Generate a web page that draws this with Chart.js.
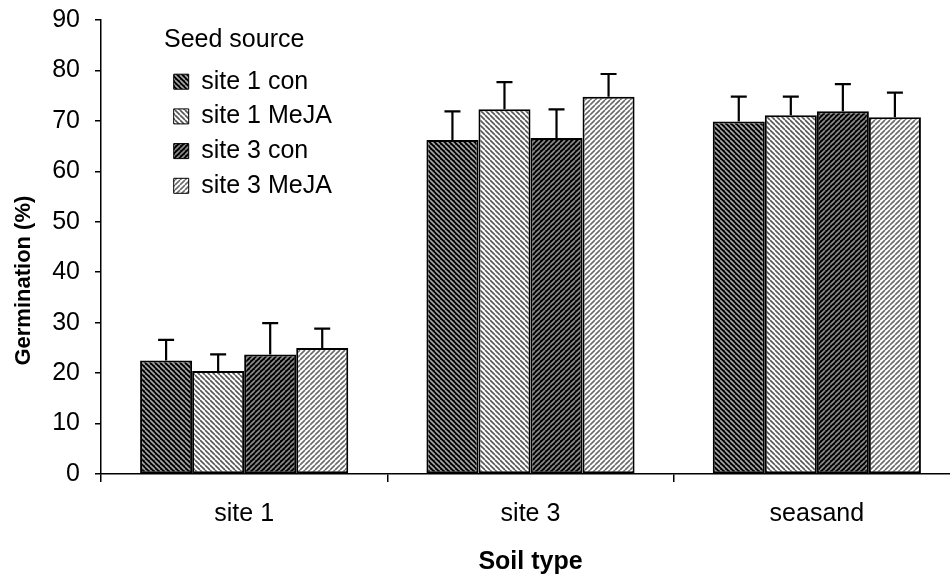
<!DOCTYPE html>
<html><head><meta charset="utf-8">
<script src="https://cdn.jsdelivr.net/npm/chart.js@4.4.1/dist/chart.umd.min.js"></script>
<style>html,body{margin:0;padding:0;overflow:hidden;background:#fff;width:950px;height:578px}
canvas{display:block}</style></head>
<body><canvas id="c" width="962" height="578"></canvas>
<script>
const categories = ['site 1', 'site 3', 'seasand'];
const seriesNames = ['site 1 con', 'site 1 MeJA', 'site 3 con', 'site 3 MeJA'];
const site1Con = [22.5, 66.2, 69.9];
const site1MeJA = [20.4, 72.3, 71.1];
const site3Con = [23.7, 66.6, 71.9];
const site3MeJA = [25.0, 74.8, 70.7];
const site1ConErr = [4.1, 5.7, 4.9];
const site1MeJAErr = [3.3, 5.4, 3.7];
const site3ConErr = [6.2, 5.7, 5.4];
const site3MeJAErr = [3.8, 4.5, 4.9];
const yTicks = [0, 10, 20, 30, 40, 50, 60, 70, 80, 90];
const xTitle = 'Soil type';
const yTitle = 'Germination (%)';
const legendTitle = 'Seed source';

const FONT = "'Liberation Sans', Arial, sans-serif";
Chart.defaults.font.family = FONT;
Chart.defaults.color = '#000';

function hatch(bg, fg, dir, size, lw) {
  const c = document.createElement('canvas');
  c.width = c.height = size;
  const x = c.getContext('2d');
  x.fillStyle = bg; x.fillRect(0, 0, size, size);
  x.strokeStyle = fg; x.lineWidth = lw; x.beginPath();
  for (let k = -size; k <= size; k += size) {
    if (dir === 'back') { x.moveTo(k, 0); x.lineTo(k + size, size); }
    else { x.moveTo(k, size); x.lineTo(k + size, 0); }
  }
  x.stroke();
  return x.createPattern(c, 'repeat');
}
const fills = [
  hatch('#000', '#a8a8a8', 'back', 5, 1.6),
  hatch('#fff', '#555', 'back', 5, 1.6),
  hatch('#000', '#8c8c8c', 'fwd', 5, 1.6),
  hatch('#fff', '#6a6a6a', 'fwd', 5, 1.6)
];

const values = [site1Con, site1MeJA, site3Con, site3MeJA];
const errs = [site1ConErr, site1MeJAErr, site3ConErr, site3MeJAErr];

const errorBars = {
  id: 'errorBars',
  afterDatasetsDraw(chart) {
    const { ctx } = chart; const y = chart.scales.y;
    ctx.save(); ctx.strokeStyle = '#000'; ctx.lineWidth = 2.2;
    chart.data.datasets.forEach((ds, i) => {
      const meta = chart.getDatasetMeta(i);
      meta.data.forEach((bar, j) => {
        const v = ds.data[j], e = ds.errors[j];
        const yBar = y.getPixelForValue(v), yTop = y.getPixelForValue(v + e);
        ctx.beginPath();
        ctx.moveTo(bar.x, yBar); ctx.lineTo(bar.x, yTop);
        ctx.moveTo(bar.x - 8, yTop); ctx.lineTo(bar.x + 8, yTop);
        ctx.stroke();
      });
    });
    ctx.restore();
  }
};
const legendPlace = {
  id: 'legendPlace',
  afterLayout(chart) {
    const l = chart.legend; const w = l.width, h = l.height;
    l.left = 164; l.top = 28; l.right = l.left + w; l.bottom = l.top + h;
  }
};

new Chart(document.getElementById('c'), {
  type: 'bar',
  data: {
    labels: categories,
    datasets: seriesNames.map((n, i) => ({
      label: n, data: values[i], errors: errs[i],
      backgroundColor: fills[i], borderColor: '#000', borderWidth: 2,
      borderSkipped: false, barPercentage: 1, categoryPercentage: 0.727
    }))
  },
  options: {
    responsive: false, animation: false, devicePixelRatio: 1,
    layout: { padding: { top: 20, right: 2, bottom: 0, left: 0 } },
    plugins: {
      tooltip: { enabled: false },
      legend: {
        position: 'chartArea', align: 'start',
        title: { display: true, text: legendTitle, position: 'start', color: '#000',
                 font: { size: 25 }, padding: { top: 0, bottom: 1.5 } },
        labels: {
          font: { size: 25 }, color: '#000', boxWidth: 15, boxHeight: 15, padding: 9.7,
          generateLabels(chart) {
            return Chart.defaults.plugins.legend.labels.generateLabels(chart).map(l => ({ ...l, lineWidth: 1 }));
          }
        }
      }
    },
    scales: {
      x: {
        grid: { drawOnChartArea: false, drawTicks: true, tickLength: 8, color: '#000', lineWidth: 1.5, offset: true },
        border: { color: '#000', width: 1.5 },
        ticks: { font: { size: 25 }, color: '#000', padding: 17, maxRotation: 0 },
        title: { display: true, text: xTitle, color: '#000', font: { size: 25, weight: 'bold' }, padding: { top: 0, bottom: 0.5 } },
        afterFit(s) { s.height = 104; s.paddingLeft = 0; s.paddingRight = 0; }
      },
      y: {
        min: 0, max: 90,
        afterBuildTicks(s) { s.ticks = yTicks.map(v => ({ value: v })); },
        ticks: { font: { size: 25 }, color: '#000', padding: 15 },
        grid: { drawOnChartArea: false, tickLength: 6, color: '#000', lineWidth: 1.5 },
        border: { color: '#000', width: 1.5 },
        title: { display: true, text: yTitle + '           ', color: '#000', font: { size: 22, weight: 'bold' }, padding: { top: 10.8, bottom: 0 } },
        afterFit(s) { s.width = 101; s.paddingTop = 0; s.paddingBottom = 0; }
      }
    }
  },
  plugins: [errorBars, legendPlace]
});
</script></body></html>
